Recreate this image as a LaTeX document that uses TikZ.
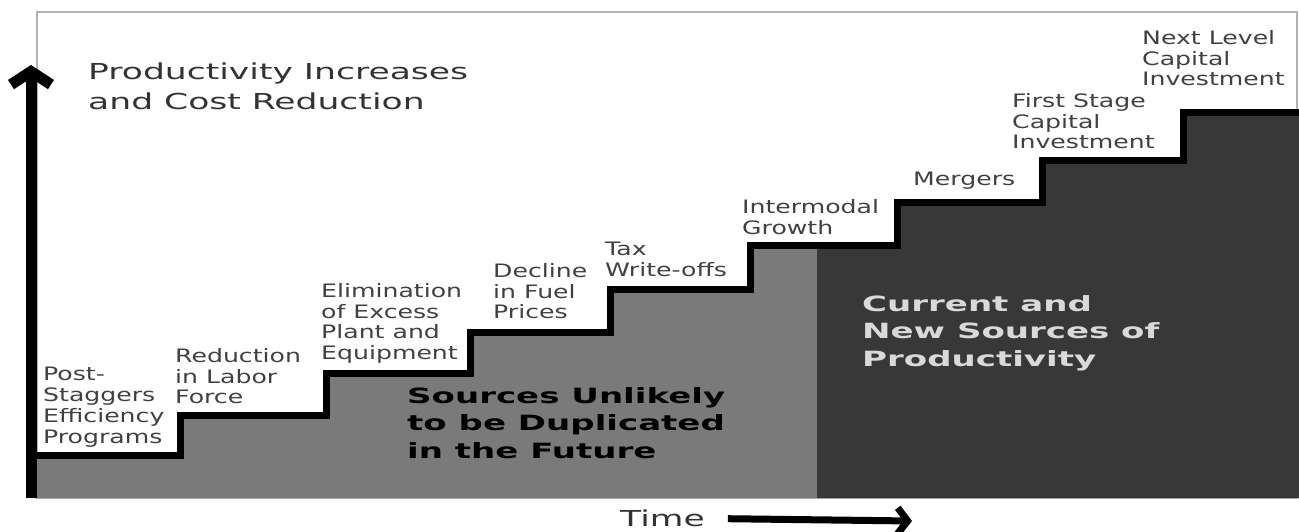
\documentclass[tikz,border=0pt]{standalone}
\usepackage{fontspec}
\usepackage{xcolor}
\usetikzlibrary{arrows.meta}

\newfontfamily\steplabelfont[FakeStretch=1.36]{DejaVu Sans}
\newfontfamily\headfont[FakeStretch=1.57]{DejaVu Sans}
\newfontfamily\areafont[FakeStretch=1.62]{DejaVu Sans}

\definecolor{oldgray}{gray}{0.48}
\definecolor{newgray}{gray}{0.22}
\definecolor{framegray}{gray}{0.7}

\begin{document}
\begin{tikzpicture}[x=1pt, y=-1pt,
    steplabel/.style={anchor=north west, align=left, inner sep=0pt, text=black!75,
        font=\steplabelfont\fontsize{18.5}{20.8}\selectfont},
    headlabel/.style={anchor=north west, align=left, inner sep=0pt, text=black!80,
        font=\headfont\fontsize{22}{30}\selectfont},
    arealabel/.style={anchor=north west, align=left, inner sep=0pt,
        font=\areafont\bfseries\fontsize{21}{27.5}\selectfont},
    stair/.style={line width=7pt, black},
    axisarrow/.style={line width=11pt, -{Straight Barb[length=13pt, width=40pt]}}]
    \useasboundingbox (0,0) rectangle (1299,532);

    % frame
    \draw[framegray, line width=2pt] (37,12) rectangle (1297,498);

    % filled areas under the stairs
    \fill[oldgray] (31,498) -- (31,455) -| (180,415) -| (326,373) -| (470,332)
        -| (610,289) -| (750,245) -- (817,245) -- (817,498) -- cycle;
    \fill[newgray] (817,498) -- (817,245) -| (897,202) -| (1042,161)
        -| (1183,113) -- (1299,113) -- (1299,498) -- cycle;

    % the stairs
    \draw[stair] (31,455) -| (180,415) -| (326,373) -| (470,332) -| (610,289)
        -| (750,245) -| (897,202) -| (1042,161) -| (1183,113) -- (1299,113);

    % vertical axis
    \coordinate (origin) at (31,498);
    \coordinate (ytip) at (31,65);
    \draw[axisarrow] (origin) -- (ytip);

    \node[headlabel] (yaxis) at (88,63) {Productivity Increases\\and Cost Reduction};

    % step labels
    \node[steplabel] (poststaggers) at (43,367) {Post-\\Staggers\\Efficiency\\Programs};
    \node[steplabel] (labor) at (175,348) {Reduction\\in Labor\\Force};
    \node[steplabel] (excess) at (321,283) {Elimination\\of Excess\\Plant and\\Equipment};
    \node[steplabel] (fuel) at (493,263) {Decline\\in Fuel\\Prices};
    \node[steplabel] (tax) at (605,242) {Tax\\Write-offs};
    \node[steplabel] (intermodal) at (742,199) {Intermodal\\Growth};
    \node[steplabel] (mergers) at (913,172) {Mergers};
    \node[steplabel] (firststage) at (1012,93) {First Stage\\Capital\\Investment};
    \node[steplabel] (nextlevel) at (1142,30) {Next Level\\Capital\\Investment};

    % area labels
    \node[arealabel, text=black] (unlikely) at (407,387) {Sources Unlikely\\to be Duplicated\\in the Future};
    \node[arealabel, text=black!15] (current) at (862,295) {Current and\\New Sources of\\Productivity};

    % time axis
    \node[headlabel] (time) at (620,510) {Time};
    \coordinate (xtip) at (912,521);
    \draw[line width=7pt, -{Straight Barb[length=10pt, width=26pt]}] ([xshift=23pt]time.east) -- (xtip);
\end{tikzpicture}
\end{document}
